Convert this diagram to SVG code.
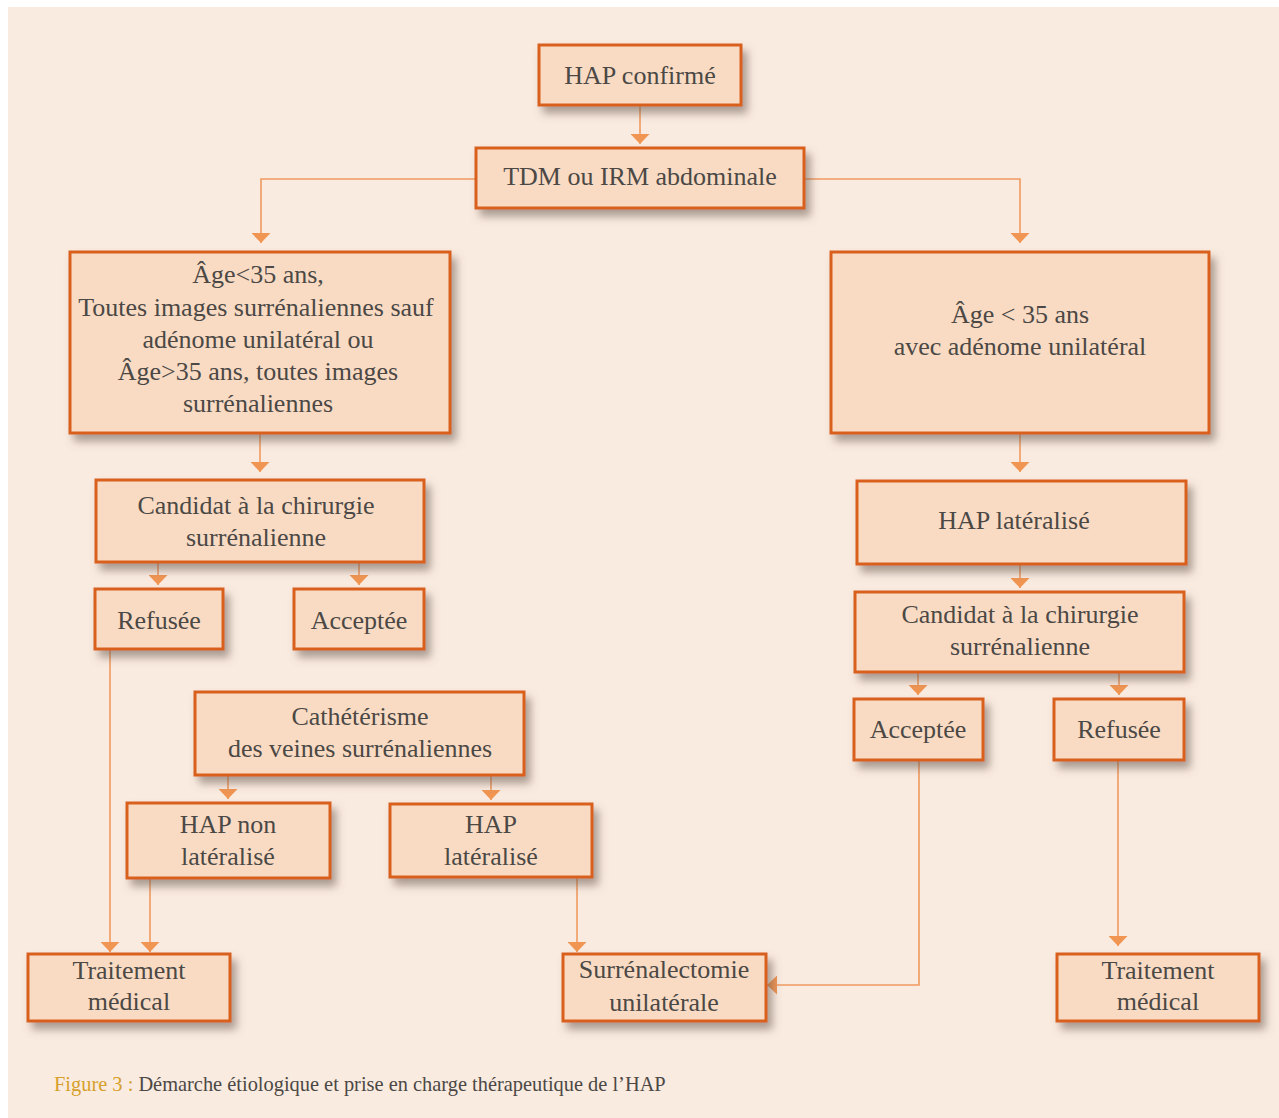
<svg xmlns="http://www.w3.org/2000/svg" width="1279" height="1118" viewBox="0 0 1279 1118">
<defs>
<style>
.box rect{fill:#f9dbc4;stroke:#d9611f;stroke-width:3;filter:url(#sh)}
.box text,.cap{font-family:"Liberation Serif","Times New Roman",serif;font-size:26px;fill:#4b4845;text-anchor:middle}
.conn path{fill:none;stroke:#f09a60;stroke-width:1.6;marker-end:url(#ah)}
.cap{font-size:20.4px;text-anchor:start}
</style>
<filter id="sh" x="-10%" y="-10%" width="130%" height="150%">
<feDropShadow dx="5" dy="7" stdDeviation="4" flood-color="#6b5a50" flood-opacity="0.55"/>
</filter>
<marker id="ah" viewBox="0 0 10 10" refX="10" refY="5" markerUnits="userSpaceOnUse" markerWidth="10" markerHeight="19" orient="auto" preserveAspectRatio="none">
<path d="M0,0 L10,5 L0,10 z" fill="#f09552"/>
</marker>
</defs>
<rect x="0" y="0" width="1279" height="1118" fill="#ffffff"/>
<rect x="8" y="7" width="1271" height="1111" fill="#faebe0"/>

<g id="connectors" class="conn">
<path d="M640,106 V144"/>
<path d="M476,179 H261 V243"/>
<path d="M804,179 H1020 V243"/>
<path d="M260,434 V472"/>
<path d="M158,563 V585"/>
<path d="M359,563 V585"/>
<path d="M110,650 V952"/>
<path d="M228,776 V799"/>
<path d="M491,776 V800"/>
<path d="M150,879 V952"/>
<path d="M577,878 V952"/>
<path d="M1020,434 V472"/>
<path d="M1020,565 V588"/>
<path d="M918,673 V695"/>
<path d="M1119,673 V695"/>
<path d="M919,761 V985 H767"/>
<path d="M1118,761 V946"/>
</g>

<g id="n1" class="box"><rect x="539" y="45" width="202" height="60"/><text x="640" y="84">HAP confirmé</text></g>
<g id="n2" class="box"><rect x="476" y="148" width="328" height="60"/><text x="640" y="185">TDM ou IRM abdominale</text></g>
<g id="n3" class="box"><rect x="70" y="252" width="380" height="181"/>
<text x="258" y="283">Âge&lt;35 ans,</text>
<text x="256" y="316">Toutes images surrénaliennes sauf</text>
<text x="258" y="348">adénome unilatéral ou</text>
<text x="258" y="380">Âge&gt;35 ans, toutes images</text>
<text x="258" y="412">surrénaliennes</text></g>
<g id="n4" class="box"><rect x="831" y="252" width="378" height="181"/>
<text x="1020" y="323">Âge &lt; 35 ans</text>
<text x="1020" y="355">avec adénome unilatéral</text></g>
<g id="n5" class="box"><rect x="96" y="480" width="328" height="82"/>
<text x="256" y="514">Candidat à la chirurgie</text>
<text x="256" y="546">surrénalienne</text></g>
<g id="n6" class="box"><rect x="95" y="589" width="128" height="60"/><text x="159" y="629">Refusée</text></g>
<g id="n7" class="box"><rect x="294" y="589" width="130" height="60"/><text x="359" y="629">Acceptée</text></g>
<g id="n8" class="box"><rect x="195" y="692" width="329" height="83"/>
<text x="360" y="725">Cathétérisme</text>
<text x="360" y="757">des veines surrénaliennes</text></g>
<g id="n9" class="box"><rect x="127" y="803" width="203" height="75"/>
<text x="228" y="833">HAP non</text>
<text x="228" y="865">latéralisé</text></g>
<g id="n10" class="box"><rect x="390" y="804" width="202" height="73"/>
<text x="491" y="833">HAP</text>
<text x="491" y="865">latéralisé</text></g>
<g id="n11" class="box"><rect x="28" y="954" width="202" height="67"/>
<text x="129" y="979">Traitement</text>
<text x="129" y="1010">médical</text></g>
<g id="n12" class="box"><rect x="563" y="954" width="203" height="67"/>
<text x="664" y="978">Surrénalectomie</text>
<text x="664" y="1011">unilatérale</text></g>
<g id="n13" class="box"><rect x="857" y="481" width="329" height="83"/><text x="1014" y="529">HAP latéralisé</text></g>
<g id="n14" class="box"><rect x="855" y="592" width="329" height="80"/>
<text x="1020" y="623">Candidat à la chirurgie</text>
<text x="1020" y="655">surrénalienne</text></g>
<g id="n15" class="box"><rect x="854" y="699" width="129" height="61"/><text x="918" y="738">Acceptée</text></g>
<g id="n16" class="box"><rect x="1054" y="699" width="130" height="61"/><text x="1119" y="738">Refusée</text></g>
<g id="n17" class="box"><rect x="1057" y="954" width="202" height="67"/>
<text x="1158" y="979">Traitement</text>
<text x="1158" y="1010">médical</text></g>

<text class="cap" x="54" y="1091"><tspan fill="#d6a02a">Figure 3 :</tspan> Démarche étiologique et prise en charge thérapeutique de l’HAP</text>
</svg>
